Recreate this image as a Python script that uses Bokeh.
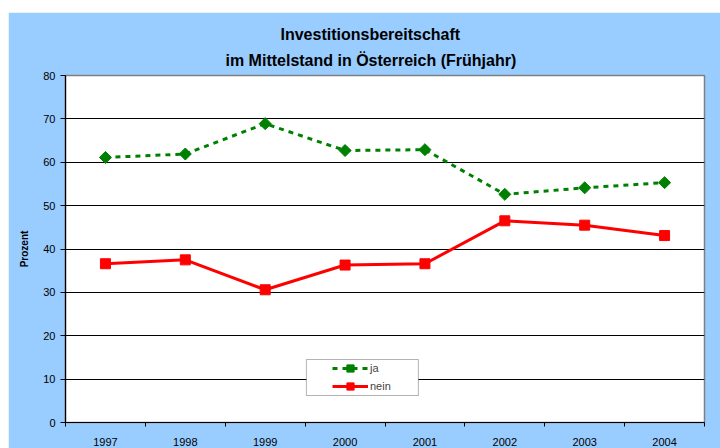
from bokeh.plotting import figure
from bokeh.models import (ColumnDataSource, FixedTicker, Legend, LegendItem, Range1d,
                          BoxAnnotation, Title)
from bokeh.embed import file_html
from bokeh.resources import INLINE
import numpy as np

years = ["1997", "1998", "1999", "2000", "2001", "2002", "2003", "2004"]
ja = [61.1, 61.9, 68.9, 62.7, 62.9, 52.6, 54.1, 55.3]
nein = [36.6, 37.5, 30.6, 36.3, 36.6, 46.5, 45.5, 43.1]
y_ticks = [0, 10, 20, 30, 40, 50, 60, 70, 80]
title_lines = ["Investitionsbereitschaft", "im Mittelstand in Österreich (Frühjahr)"]

FONT = "Liberation Sans"
BLUE = "#99CCFF"

xpos = [i + 0.5 for i in range(len(years))]
src = ColumnDataSource(dict(x=xpos, ja=ja, nein=nein, year=years))

p = figure(width=712, height=436, output_backend="svg", toolbar_location=None,
           x_range=Range1d(0, len(years)), y_range=Range1d(0, 80),
           min_border_left=57, min_border_right=16, min_border_top=63, min_border_bottom=26)
p.margin = (12, 0, 0, 8)
p.background_fill_color = "white"
p.border_fill_color = BLUE
p.outline_line_color = "#808080"
p.outline_line_width = 1.5

# two title lines, first added = closest to the plot
p.add_layout(Title(text=title_lines[1], align="left", offset=160, standoff=14,
                   text_font=FONT, text_font_size="16px", text_font_style="bold",
                   text_color="black"), "above")
p.add_layout(Title(text=title_lines[0], align="left", offset=215, standoff=0,
                   text_font=FONT, text_font_size="16px", text_font_style="bold",
                   text_color="black"), "above")

# axes
p.xaxis.ticker = FixedTicker(ticks=xpos, minor_ticks=list(range(len(years) + 1)))
p.xaxis.major_label_overrides = {x: y for x, y in zip(xpos, years)}
p.xaxis.major_tick_out = 0
p.xaxis.major_tick_in = 0
p.xaxis.minor_tick_out = 4
p.xaxis.minor_tick_in = 0
p.xaxis.minor_tick_line_color = "black"
p.xaxis.major_label_standoff = 11
p.yaxis.ticker = FixedTicker(ticks=y_ticks, minor_ticks=[])
p.yaxis.major_tick_out = 5
p.yaxis.major_tick_in = 0
p.yaxis.minor_tick_line_color = None
p.yaxis.major_label_standoff = 5
p.yaxis.axis_label = "Prozent"
p.yaxis.axis_label_text_font = FONT
p.yaxis.axis_label_text_font_size = "10px"
p.yaxis.axis_label_text_font_style = "bold"
p.yaxis.axis_label_text_color = "black"
p.yaxis.axis_label_standoff = 10
for ax in (p.xaxis, p.yaxis):
    ax.axis_line_color = "black"
    ax.axis_line_width = 1.2
    ax.major_tick_line_color = "black"
    ax.major_label_text_font = FONT
    ax.major_label_text_font_size = "11px"
    ax.major_label_text_color = "black"

p.xgrid.grid_line_color = None
p.ygrid.ticker = FixedTicker(ticks=y_ticks)
p.ygrid.grid_line_color = "black"
p.ygrid.grid_line_width = 1

# series
l1 = p.line("x", "ja", source=src, line_color="#008000", line_width=3, line_dash="5 5")
m1 = p.scatter("x", "ja", source=src, marker="square", angle=np.pi / 4, size=8.5,
               fill_color="#008000", line_color="#008000")
l2 = p.line("x", "nein", source=src, line_color="#FF0000", line_width=3)
m2 = p.scatter("x", "nein", source=src, marker="square", size=10, fill_color="#FF0000",
               line_color="#FF0000")

# legend frame
p.add_layout(BoxAnnotation(left=3.016, right=4.418, bottom=6.22, top=14.52,
                           fill_color="white", fill_alpha=1, line_color="black",
                           line_width=1, level="overlay"))
legend = Legend(items=[LegendItem(label="ja", renderers=[l1, m1]),
                       LegendItem(label="nein", renderers=[l2, m2])],
                location=(267, 27), padding=0, margin=0, spacing=0,
                glyph_width=36, glyph_height=18, label_height=18, label_standoff=2,
                label_text_font=FONT, label_text_font_size="11px",
                border_line_color=None, background_fill_alpha=0)
p.add_layout(legend, "center")

open("out.html", "w").write(file_html(p, INLINE))
